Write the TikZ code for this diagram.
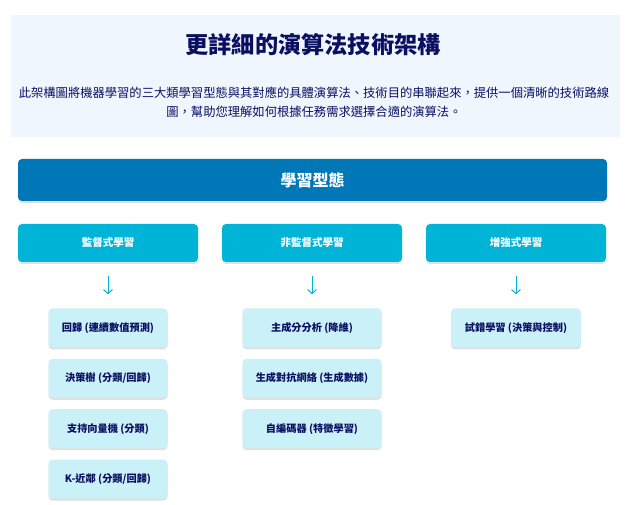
\documentclass[tikz,border=0pt]{standalone}
\usepackage{fontspec}
\setmainfont{Noto Sans CJK TC}
\usepackage{tikz}
\usetikzlibrary{positioning, arrows.meta, shadows}

\definecolor{navy}{HTML}{0A0F62}
\definecolor{deepblue}{HTML}{0077B6}
\definecolor{midblue}{HTML}{00B4D8}
\definecolor{paleblue}{HTML}{CAF0F8}
\definecolor{bandblue}{HTML}{EFF6FE}

\tikzset{
  band/.style = {fill = bandblue, rectangle, inner sep = 0pt,
    minimum width = 609pt, minimum height = 122pt},
  soft shadow/.style = {drop shadow = {shadow xshift = 0pt,
    shadow yshift = -2pt, opacity = 0.12, fill = black}},
  rootbox/.style = {fill = deepblue, rounded corners = 4pt, soft shadow,
    minimum width = 589pt, minimum height = 42pt, text = white,
    font = \fontsize{16}{19}\selectfont\bfseries},
  typebox/.style = {fill = midblue, rounded corners = 4pt, soft shadow,
    minimum width = 180pt, minimum height = 38pt, text = white,
    font = \fontsize{10.5}{13}\selectfont\bfseries},
  leaf/.style = {fill = paleblue, rounded corners = 4pt, soft shadow,
    minimum height = 39pt, text = navy, inner sep = 0pt,
    font = \fontsize{10.2}{12}\selectfont\bfseries},
  down arrow/.style = {-{Straight Barb[length = 4pt, width = 9pt]},
    draw = midblue, line width = 1pt},
}

\begin{document}
\begin{tikzpicture}[x = 1pt, y = 1pt]
      \useasboundingbox (0,0) rectangle (630,-505);

      % header
      \node [band] (header) at (315.5,-76) {};
      \node [text = navy, font = \fontsize{23.2}{27}\selectfont\bfseries]
        (title) at (313,-45) {更詳細的演算法技術架構};
      \node [text = navy, align = center,
        font = \fontsize{12.3}{19.5}\selectfont] (intro) at (314,-102)
        {此架構圖將機器學習的三大類學習型態與其對應的具體演算法、技術目的串聯起來，提供一個清晰的技術路線\\
         圖，幫助您理解如何根據任務需求選擇合適的演算法。};

      % learning types
      \node [rootbox] (types) at (312.5,-180) {學習型態};
      \node [typebox] (sup)   at (108,-243) {監督式學習};
      \node [typebox] (unsup) at (312,-243) {非監督式學習};
      \node [typebox] (rein)  at (516,-243) {增強式學習};

      \coordinate [below = 14pt of sup]   (sup top);
      \coordinate [below = 14pt of unsup] (unsup top);
      \coordinate [below = 14pt of rein]  (rein top);
      \coordinate [below = 18pt of sup top]   (sup end);
      \coordinate [below = 18pt of unsup top] (unsup end);
      \coordinate [below = 18pt of rein top]  (rein end);
      \draw [down arrow] (sup top)   -- (sup end);
      \draw [down arrow] (unsup top) -- (unsup end);
      \draw [down arrow] (rein top)  -- (rein end);

      % algorithms
      \node [leaf, minimum width = 119pt, below = 14pt of sup end]
        (sup-1) {回歸 (連續數值預測)};
      \node [leaf, minimum width = 119pt, below = 11pt of sup-1]
        (sup-2) {決策樹 (分類/回歸)};
      \node [leaf, minimum width = 119pt, below = 11pt of sup-2]
        (sup-3) {支持向量機 (分類)};
      \node [leaf, minimum width = 119pt, below = 11pt of sup-3]
        (sup-4) {K-近鄰 (分類/回歸)};

      \node [leaf, minimum width = 139pt, below = 14pt of unsup end]
        (unsup-1) {主成分分析 (降維)};
      \node [leaf, minimum width = 139pt, below = 11pt of unsup-1]
        (unsup-2) {生成對抗網絡 (生成數據)};
      \node [leaf, minimum width = 139pt, below = 11pt of unsup-2]
        (unsup-3) {自編碼器 (特徵學習)};

      \node [leaf, minimum width = 130pt, below = 14pt of rein end]
        (rein-1) {試錯學習 (決策與控制)};
\end{tikzpicture}
\end{document}
